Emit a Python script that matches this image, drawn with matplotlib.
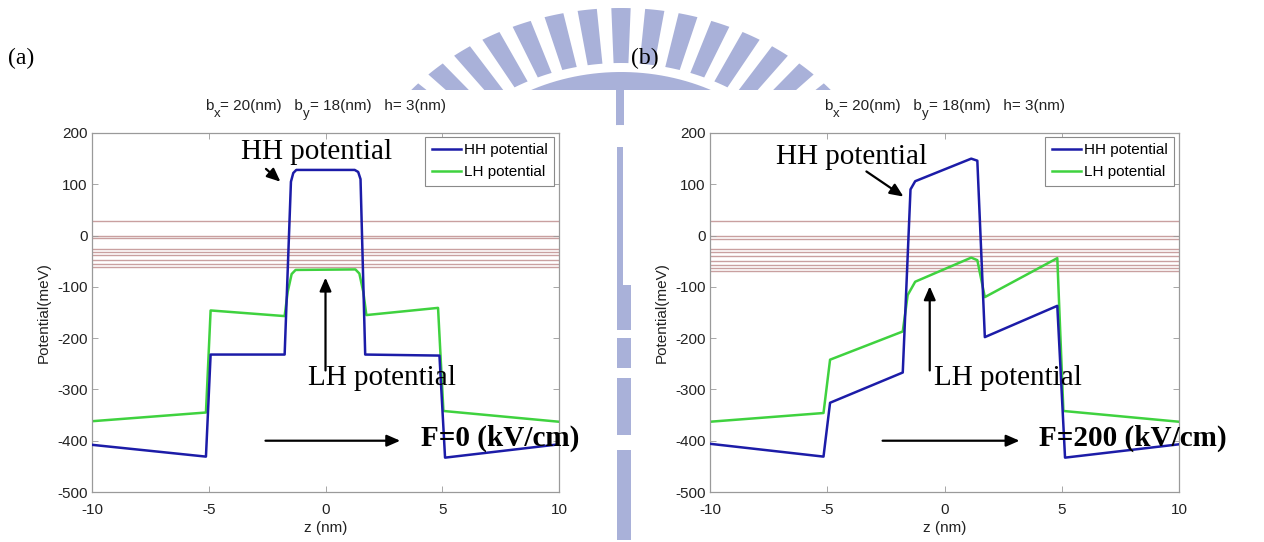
import numpy as np
import matplotlib
matplotlib.use("Agg")
import matplotlib.pyplot as plt
from matplotlib.patches import Polygon, Rectangle
from matplotlib.transforms import Affine2D

plt.rcParams['font.family'] = ['Liberation Sans', 'DejaVu Sans']
plt.rcParams['axes.unicode_minus'] = False

# ---- data -------------------------------------------------------------
# (a) F = 0 kV/cm
z_hh_a = [-10, -5.12, -4.92, -1.75, -1.48, -1.38, -1.25, 1.25, 1.40, 1.50, 1.70, 4.88, 5.12, 10]
v_hh_a = [-408, -431, -232, -232, 105, 122, 128, 128, 124, 110, -232, -234, -433, -407]
z_lh_a = [-10, -5.12, -4.92, -1.75, -1.62, -1.45, -1.28, 1.28, 1.45, 1.62, 1.75, 4.82, 5.05, 10]
v_lh_a = [-362, -345, -146, -157, -110, -75, -67, -66, -74, -110, -155, -141, -342, -363]
levels_a = [28, 0, -5, -26, -32, -38, -48, -55, -62]

# (b) F = 200 kV/cm
z_hh_b = [-10, -5.16, -4.88, -1.78, -1.45, -1.25, 1.14, 1.40, 1.72, 4.81, 5.14, 10]
v_hh_b = [-406, -431, -326, -267, 90, 106, 150, 146, -198, -137, -433, -407]
z_lh_b = [-10, -5.16, -4.88, -1.78, -1.57, -1.25, 1.14, 1.40, 1.72, 4.81, 5.07, 10]
v_lh_b = [-363, -346, -242, -187, -116, -90, -43, -48, -120, -44, -342, -363]
levels_b = [28, 0, -7, -27, -33, -39, -50, -57, -64, -70]

x_ticks = [-10, -5, 0, 5, 10]
y_ticks = [200, 100, 0, -100, -200, -300, -400, -500]
# title pieces: (text, is_subscript)
title_parts = [('b', False), ('x', True), ('= 20(nm)   b', False), ('y', True),
               ('= 18(nm)   h= 3(nm)', False)]
field_a = 'F=0 (kV/cm)'
field_b = 'F=200 (kV/cm)'

HH_COLOR = '#1c1ca8'
LH_COLOR = '#3fd23f'
LEVEL_COLOR = '#c9a0a0'
WM_COLOR = '#a9b1d9'
TXT = '#222222'

W, H = 1264, 542
fig = plt.figure(figsize=(W / 100, H / 100), dpi=100)
fig.patch.set_facecolor('white')

# pixel coordinates (origin top-left) -> figure
pix = Affine2D().scale(1 / W, -1 / H).translate(0, 1) + fig.transFigure


def rect_px(x0, y0, x1, y1):
    return [x0 / W, 1 - y1 / H, (x1 - x0) / W, (y1 - y0) / H]


# ---- background emblem ------------------------------------------------
cx, cy, sx = 621, 245, 1.17


def ring_seg(r_in, r_out, a0, a1, n=20):
    th = np.radians(np.linspace(a0, a1, n))
    outer = np.column_stack([cx + sx * r_out * np.sin(th), cy - r_out * np.cos(th)])
    inner = np.column_stack([cx + sx * r_in * np.sin(th[::-1]), cy - r_in * np.cos(th[::-1])])
    return np.vstack([outer, inner])


for a in np.arange(-49, 50, 7.0):
    fig.patches.append(Polygon(ring_seg(182, 237, a - 2.0, a + 2.0), closed=True,
                               transform=pix, facecolor=WM_COLOR, edgecolor='none', zorder=0))
fig.patches.append(Polygon(ring_seg(120, 173, -70, 70, 80), closed=True,
                           transform=pix, facecolor=WM_COLOR, edgecolor='none', zorder=0))
# strip between the two panels
for (x0, y0, x1, y1) in [(617, 147, 623, 285), (617, 285, 631, 330), (617, 338, 631, 368),
                         (617, 378, 631, 435), (617, 450, 631, 540)]:
    fig.patches.append(Rectangle((x0, y0), x1 - x0, y1 - y0, transform=pix,
                                 facecolor=WM_COLOR, edgecolor='none', zorder=0))
# white panel backgrounds
for (x0, y0, x1, y1) in [(0, 90, 616, 542), (632, 90, 1264, 542), (624, 90, 632, 285)]:
    fig.patches.append(Rectangle((x0, y0), x1 - x0, y1 - y0, transform=pix,
                                 facecolor='white', edgecolor='none', zorder=0.5))


# ---- panels -----------------------------------------------------------
def panel(rect, z_hh, v_hh, z_lh, v_lh, levels):
    ax = fig.add_axes(rect)
    ax.set_zorder(2)
    ax.set_facecolor('white')
    for lv in levels:
        ax.axhline(lv, color=LEVEL_COLOR, lw=1.0, zorder=1)
    ax.plot(z_hh, v_hh, color=HH_COLOR, lw=1.8, label='HH potential', zorder=3)
    ax.plot(z_lh, v_lh, color=LH_COLOR, lw=1.8, label='LH potential', zorder=2)
    ax.set_xlim(-10, 10)
    ax.set_ylim(-500, 200)
    ax.set_xticks(x_ticks)
    ax.set_yticks(y_ticks)
    ax.tick_params(direction='in', length=4, width=0.6, color='#999999',
                   labelsize=11, labelcolor=TXT, top=True, right=True, pad=3)
    ax.tick_params(axis='x', pad=8)
    for s in ax.spines.values():
        s.set_color('#9a9a9a')
        s.set_linewidth(0.9)
    ax.set_xlabel('z (nm)', fontsize=11, color=TXT, labelpad=3)
    ax.set_ylabel('Potential(meV)', fontsize=11, color=TXT, labelpad=5)
    leg = ax.legend(loc='upper right', bbox_to_anchor=(0.99, 0.99), borderaxespad=0,
                    fontsize=11, fancybox=False, framealpha=1, handlelength=1.9,
                    handletextpad=0.2, borderpad=0.45, labelspacing=0.5)
    leg.get_frame().set_edgecolor('#8a8a8a')
    leg.get_frame().set_linewidth(0.8)
    return ax


ax_a = panel(rect_px(92, 133, 559, 492), z_hh_a, v_hh_a, z_lh_a, v_lh_a, levels_a)
ax_b = panel(rect_px(710, 133, 1179, 492), z_hh_b, v_hh_b, z_lh_b, v_lh_b, levels_b)

# titles with lowered subscripts, laid out piece by piece
renderer = fig.canvas.get_renderer()


def draw_title(x_center, baseline):
    pieces = []
    for txt, sub in title_parts:
        t = fig.text(0, 0, txt, fontsize=9.5 if sub else 11, color=TXT,
                     va='baseline', ha='left', transform=pix)
        pieces.append((t, sub))
    widths = [t.get_window_extent(renderer).width for t, _ in pieces]
    x = x_center - sum(widths) / 2
    for (t, sub), w in zip(pieces, widths):
        t.set_position((x, baseline + (7 if sub else 0)))
        x += w


draw_title(325.5, 110)
draw_title(944.5, 110)

serif = ['Liberation Serif', 'DejaVu Serif']
arrow = dict(arrowstyle='-|>,head_length=0.8,head_width=0.35', color='black', lw=1.6,
             shrinkA=0, shrinkB=0)
FS = 21

# (a) annotations
ax_a.text(-3.64, 150, 'HH potential', family=serif, fontsize=FS, zorder=5)
ax_a.annotate('', xy=(-1.93, 105), xytext=(-2.55, 130), arrowprops=arrow)
ax_a.text(-0.77, -292, 'LH potential', family=serif, fontsize=FS, zorder=5)
ax_a.annotate('', xy=(0.0, -82), xytext=(0.0, -263), arrowprops=arrow)
ax_a.annotate('', xy=(3.2, -400), xytext=(-2.57, -400), arrowprops=arrow)
ax_a.text(4.1, -409, field_a, family=serif, fontsize=FS, fontweight='bold', zorder=5)

# (b) annotations
ax_b.text(-7.2, 140, 'HH potential', family=serif, fontsize=FS, zorder=5)
ax_b.annotate('', xy=(-1.75, 76), xytext=(-3.33, 125), arrowprops=arrow)
ax_b.text(-0.44, -292, 'LH potential', family=serif, fontsize=FS, zorder=5)
ax_b.annotate('', xy=(-0.63, -99), xytext=(-0.63, -263), arrowprops=arrow)
ax_b.annotate('', xy=(3.2, -400), xytext=(-2.64, -400), arrowprops=arrow)
ax_b.text(4.05, -409, field_b, family=serif, fontsize=FS, fontweight='bold', zorder=5)

# panel tags
fig.text(8 / W, 1 - 58 / H, '(a)', family=serif, fontsize=17, va='center', ha='left')
fig.text(645 / W, 1 - 58 / H, '(b)', family=serif, fontsize=17, va='center', ha='center')

fig.savefig('out.png', dpi=100, facecolor='white')
